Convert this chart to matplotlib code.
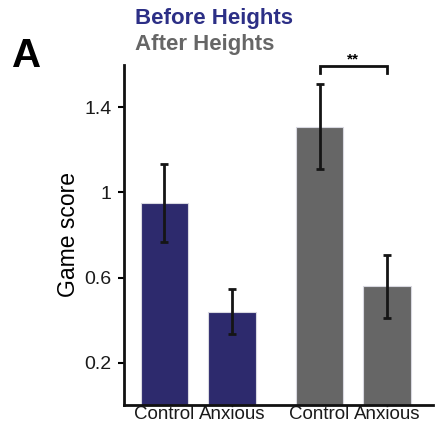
"""
Game score before and after heights, control vs anxious groups
"""

import matplotlib
matplotlib.use("Agg")
import matplotlib.pyplot as plt
import numpy as np


groups = ["Control", "Anxious", "Control", "Anxious"]
scores = [0.95, 0.44, 1.31, 0.558]
errors = [0.185, 0.105, 0.20, 0.147]
yticks = [0.2, 0.6, 1.0, 1.4]
ytick_labels = ["0.2", "0.6", "1", "1.4"]

NAVY = "#2d2a6d"
TITLE_NAVY = "#2c2f86"
GRAY = "#666666"

plt.rcParams["font.family"] = ["Liberation Sans", "DejaVu Sans"]

fig = plt.figure(figsize=(4.39, 4.30), dpi=100)
ax = fig.add_axes([0.2825, 0.058, 0.7035, 0.791])

xpos = np.array([0.0, 1.0, 2.3, 3.3])
colors = [NAVY, NAVY, GRAY, GRAY]

ax.bar(xpos, scores, width=0.7, color=colors, edgecolor="#d8d8e0", linewidth=0.8, zorder=2)
ax.errorbar(xpos, scores, yerr=errors, fmt="none", ecolor="#151515",
            elinewidth=2, capsize=2.6, capthick=2, zorder=3)

ax.set_xlim(-0.6, 3.98)
ax.set_ylim(0, 1.6)
ax.set_xticks(xpos)
ax.set_xticklabels(groups, fontsize=13.5, color="#1a1a1a")
ax.tick_params(axis="x", length=0, pad=1)
ax.set_yticks(yticks)
ax.set_yticklabels(ytick_labels, fontsize=14, color="#1a1a1a")
ax.tick_params(axis="y", direction="out", length=4, width=1.5, pad=5)
ax.set_ylabel("Game score", fontsize=16.5, labelpad=3)

for side in ["top", "right"]:
    ax.spines[side].set_visible(False)
for side in ["left", "bottom"]:
    ax.spines[side].set_linewidth(2)
    ax.spines[side].set_color("#111111")

# significance bracket between the two "after" bars
bx = [xpos[2], xpos[2], xpos[3], xpos[3]]
by = [1.562, 1.597, 1.597, 1.562]
ax.plot(bx, by, color="#111111", lw=2, clip_on=False, solid_joinstyle="miter")
ax.text((xpos[2] + xpos[3]) / 2, 1.625, "**", ha="center", va="center",
        fontsize=11, fontweight="bold")

fig.text(0.307, 0.958, "Before Heights", color=TITLE_NAVY, fontsize=16,
         fontweight="bold", ha="left", va="center")
fig.text(0.307, 0.897, "After Heights", color=GRAY, fontsize=16,
         fontweight="bold", ha="left", va="center")
fig.text(0.028, 0.87, "A", fontsize=29, fontweight="bold", ha="left", va="center")

fig.savefig("out.png", dpi=100)
